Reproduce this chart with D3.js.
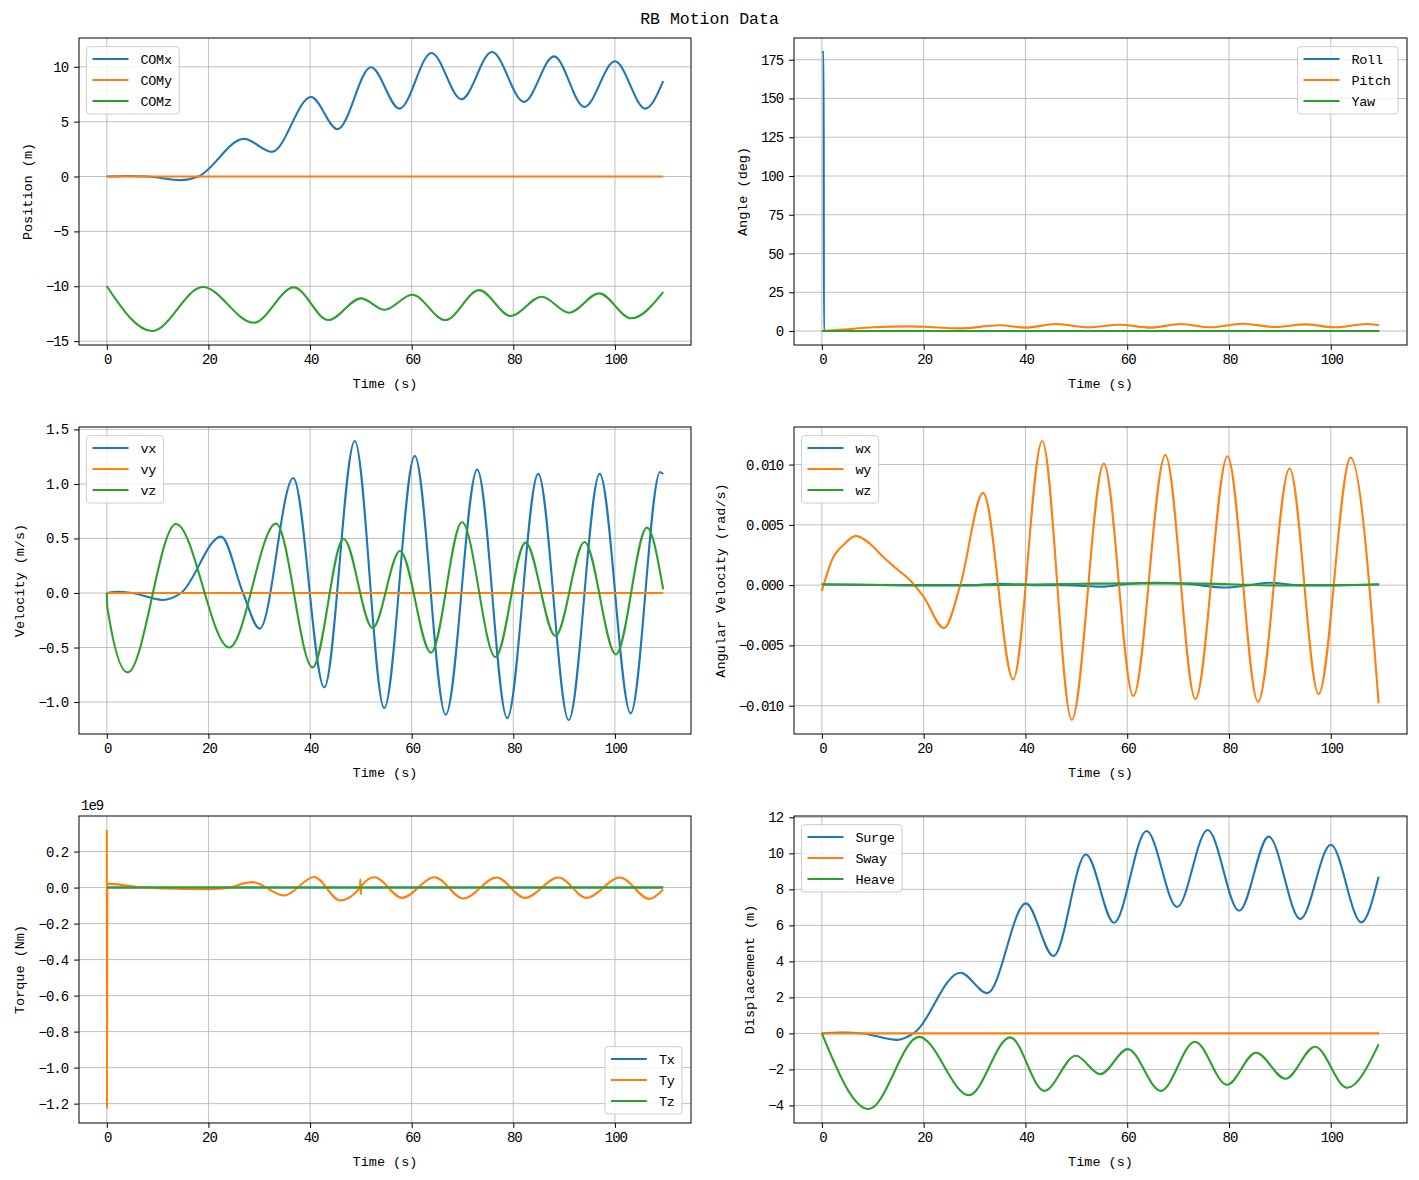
<!DOCTYPE html>
<html>
<head>
<meta charset="utf-8">
<script src="https://cdn.jsdelivr.net/npm/d3@7"></script>
<style>
body { margin: 0; background: #fff; }
svg text { font-family: "Liberation Mono", "DejaVu Sans Mono", monospace; fill: #000; }
</style>
</head>
<body>
<div id="chart"></div>
<script>
// [time (s), value] pairs
const COMx = [[0,0],[4,0.05],[8,0],[14.6,-0.33],[18,0],[27,3.43],[32.5,2.25],[40.2,7.25],[45.4,4.31],[52,9.95],[57.6,6.19],[63.9,11.26],[69.8,7.04],[75.8,11.35],[82.1,6.8],[88,10.95],[94,6.34],[100,10.5],[106,6.19],[109.5,8.7]];
const COMy = [[0,0],[109.5,0]];
const COMz = [[0,-10],[8.9,-14.08],[18.9,-10.07],[28.9,-13.32],[36.8,-10.1],[43.6,-13.08],[50,-11.1],[54.7,-12.14],[60.1,-10.77],[66.6,-13.08],[73.3,-10.35],[79.5,-12.71],[85.6,-10.95],[91,-12.41],[96.9,-10.65],[103.2,-12.92],[109.5,-10.53]];

const Roll = [[0,180],[0.35,180],[0.4,0],[109.5,0]];
const Pitch = [[0,0],[5,1.2],[10,2.4],[17,3.0],[20,2.8],[27,1.7],[35,3.7],[40,2.2],[46,4.5],[52.5,2.4],[58.5,4.1],[64.5,2.2],[70.5,4.5],[76.5,2.4],[82.7,4.7],[89,2.6],[95,4.3],[100.8,2.4],[107,4.5],[109.5,3.7]];
const Yaw = [[0,0],[109.5,0]];

const vx = [[0,0],[2,0.012],[5,0],[11,-0.064],[14.6,0],[22.5,0.517],[26.8,0],[30.1,-0.327],[36.7,1.055],[42.8,-0.865],[48.8,1.394],[54.6,-1.055],[60.6,1.257],[66.7,-1.116],[72.9,1.131],[78.8,-1.147],[84.9,1.092],[90.9,-1.165],[97,1.092],[103.1,-1.104],[108.9,1.11],[109.5,1.09]];
const vy = [[0,0],[109.5,0]];
const vz = [[0,0],[0.1,-0.13],[4.1,-0.728],[13.6,0.633],[24.1,-0.5],[33.3,0.636],[40.5,-0.682],[46.6,0.498],[52.3,-0.321],[57.7,0.385],[63.8,-0.547],[69.9,0.648],[76.5,-0.587],[82.4,0.462],[88.3,-0.394],[94,0.468],[100.2,-0.563],[106.3,0.599],[109.5,0.034]];

const wx = [[0,0.00005],[20,0],[30,0],[35,0.00012],[42,0],[48,0],[55,-0.00013],[60,0.0001],[65,0.0002],[72,0.0001],[79,-0.0002],[84,0],[88,0.0002],[94,0],[100,0],[109.5,0.00005]];
const wy = [[0,-0.00047],[2,0.0021],[4.4,0.0034],[6.7,0.00409],[9.4,0.00345],[12,0.00235],[15,0.00124],[17,0.00055],[20,-0.00097],[24,-0.00356],[27.2,0],[31.7,0.00765],[37.6,-0.00782],[43.3,0.01196],[49.1,-0.01119],[55.4,0.01008],[61.2,-0.0092],[67.5,0.0108],[73.4,-0.00945],[79.7,0.01069],[85.7,-0.00967],[91.9,0.00967],[97.6,-0.00903],[103.9,0.01058],[109.4,-0.0098]];
const wz = [[0,0.00008],[25,-0.00003],[48,0.0001],[62,0.00015],[72,0.00015],[80,0.00008],[90,-0.00003],[100,-0.00002],[109.5,0.00008]];

// torque in units of 1e9 Nm
const Tx = [[0,0],[109.5,0]];
const Ty = [[0,0.32],[0.03,-1.23],[0.1,0.022],[5,0.007],[10,-0.004],[15,-0.007],[20,-0.009],[23,-0.005],[28.7,0.03],[34.9,-0.044],[40.8,0.059],[45.9,-0.071],[49.85,0],[49.9,0.046],[50,-0.037],[50.1,0.008],[52.7,0.057],[58.1,-0.057],[64.5,0.057],[70.2,-0.061],[76.7,0.056],[82.3,-0.057],[88.9,0.056],[94.4,-0.057],[101,0.056],[106.8,-0.063],[109.5,-0.011]];
const Tz = [[0,0],[109.5,0]];

const Surge = [[0,0],[4,0.05],[8,0],[14.8,-0.36],[18,0],[27.2,3.37],[32.5,2.24],[40.1,7.22],[45.5,4.3],[51.9,9.94],[57.4,6.15],[63.8,11.24],[69.8,7.02],[75.8,11.3],[82,6.81],[87.8,10.93],[94,6.35],[100,10.48],[106,6.17],[109.4,8.7]];
const Sway = [[0,0],[109.5,0]];
const Heave = [[0,0],[9.2,-4.2],[19.1,-0.19],[28.9,-3.43],[37,-0.22],[43.7,-3.19],[49.9,-1.24],[54.7,-2.26],[60.1,-0.87],[66.6,-3.19],[73.3,-0.46],[79.6,-2.85],[85.3,-1.07],[91.1,-2.52],[96.9,-0.74],[103.2,-3.02],[109.4,-0.61]];

const timeTicks = [0,20,40,60,80,100];
const posTicks = [-15,-10,-5,0,5,10];
const angTicks = [0,25,50,75,100,125,150,175];
const velTicks = [-1.0,-0.5,0.0,0.5,1.0,1.5];
const omegaTicks = [-0.010,-0.005,0.000,0.005,0.010];
const torqueTicks = [-1.2,-1.0,-0.8,-0.6,-0.4,-0.2,0.0,0.2];
const dispTicks = [-4,-2,0,2,4,6,8,10,12];

const colors = ["#1f77b4", "#ff7f0e", "#2ca02c"];

var width = 1419, height = 1180;
var cols = [[79, 691], [794, 1407]];
var rows = [[38, 345], [427, 734], [816, 1123]];

var svg = d3.select("#chart").append("svg")
    .attr("width", width)
    .attr("height", height);

svg.append("text")
    .attr("x", 709.5)
    .attr("y", 23.5)
    .attr("text-anchor", "middle")
    .style("font-size", "16.5px")
    .text("RB Motion Data");

const panels = [
    { col: 0, row: 0, ylabel: "Position (m)", ticks: posTicks, fmt: d3.format("d"), legend: "ul",
      series: [["COMx", COMx], ["COMy", COMy], ["COMz", COMz]] },
    { col: 1, row: 0, ylabel: "Angle (deg)", ticks: angTicks, fmt: d3.format("d"), legend: "ur",
      series: [["Roll", Roll], ["Pitch", Pitch], ["Yaw", Yaw]] },
    { col: 0, row: 1, ylabel: "Velocity (m/s)", ticks: velTicks, fmt: d3.format(".1f"), legend: "ul",
      series: [["vx", vx], ["vy", vy], ["vz", vz]] },
    { col: 1, row: 1, ylabel: "Angular Velocity (rad/s)", ticks: omegaTicks, fmt: d3.format(".3f"), legend: "ul",
      series: [["wx", wx], ["wy", wy], ["wz", wz]] },
    { col: 0, row: 2, ylabel: "Torque (Nm)", ticks: torqueTicks, fmt: d3.format(".1f"), legend: "lr", offset: "1e9",
      series: [["Tx", Tx], ["Ty", Ty], ["Tz", Tz]] },
    { col: 1, row: 2, ylabel: "Displacement (m)", ticks: dispTicks, fmt: d3.format("d"), legend: "ul",
      series: [["Surge", Surge], ["Sway", Sway], ["Heave", Heave]] }
];

function paddedExtent(values) {
    var ext = d3.extent(values);
    var pad = (ext[1] - ext[0]) * 0.05;
    return [ext[0] - pad, ext[1] + pad];
}

function crtajPanel(p) {
    var x0 = cols[p.col][0], x1 = cols[p.col][1];
    var y0 = rows[p.row][0], y1 = rows[p.row][1];
    var g = svg.append("g");

    var allT = p.series.flatMap(s => s[1].map(d => d[0]));
    var allV = p.series.flatMap(s => s[1].map(d => d[1]));

    var x = d3.scaleLinear().domain(paddedExtent(allT)).range([x0, x1]);
    var y = d3.scaleLinear().domain(paddedExtent(allV)).range([y1, y0]);

    // grid
    g.selectAll(".gx").data(timeTicks).enter().append("line")
        .attr("x1", d => x(d)).attr("x2", d => x(d))
        .attr("y1", y0).attr("y2", y1)
        .attr("stroke", "#b0b0b0").attr("stroke-width", 0.8);
    g.selectAll(".gy").data(p.ticks).enter().append("line")
        .attr("x1", x0).attr("x2", x1)
        .attr("y1", d => y(d)).attr("y2", d => y(d))
        .attr("stroke", "#b0b0b0").attr("stroke-width", 0.8);

    // lines
    var line = d3.line()
        .x(d => x(d[0]))
        .y(d => y(d[1]))
        .curve(d3.curveMonotoneX);

    p.series.forEach((s, i) => {
        g.append("path")
            .datum(s[1])
            .attr("d", line)
            .attr("fill", "none")
            .attr("stroke", colors[i])
            .attr("stroke-width", 2.1)
            .attr("stroke-linejoin", "round");
    });

    // frame
    g.append("rect")
        .attr("x", x0).attr("y", y0)
        .attr("width", x1 - x0).attr("height", y1 - y0)
        .attr("fill", "none").attr("stroke", "#000").attr("stroke-width", 1);

    // axes
    var ax = g.append("g")
        .attr("transform", "translate(0," + y1 + ")")
        .call(d3.axisBottom(x).tickValues(timeTicks).tickFormat(d3.format("d")).tickSizeInner(4.9).tickSizeOuter(0).tickPadding(4.5));
    ax.select(".domain").remove();
    ax.selectAll("text").style("font-size", "14px").style("letter-spacing", "-1px")
        .attr("dx", "0.5px").attr("fill", "#000");

    var ay = g.append("g")
        .attr("transform", "translate(" + x0 + ",0)")
        .call(d3.axisLeft(y).tickValues(p.ticks).tickFormat(p.fmt).tickSizeInner(4.9).tickSizeOuter(0).tickPadding(6));
    ay.select(".domain").remove();
    ay.selectAll("text").style("font-size", "14px").style("letter-spacing", "-1px").attr("fill", "#000");

    // bbox is in the axis group's own coordinates
    var bb = ay.node().getBBox();

    g.append("text")
        .attr("transform", "rotate(-90)")
        .attr("x", -(y0 + y1) / 2)
        .attr("y", x0 + bb.x - 14)
        .attr("text-anchor", "middle")
        .style("font-size", "13.5px")
        .text(p.ylabel);

    g.append("text")
        .attr("x", (x0 + x1) / 2)
        .attr("y", y1 + 43)
        .attr("text-anchor", "middle")
        .style("font-size", "13.5px")
        .text("Time (s)");

    if (p.offset) {
        g.append("text")
            .attr("x", x0 + 2)
            .attr("y", y0 - 6)
            .style("font-size", "14px")
            .style("letter-spacing", "-1px")
            .text(p.offset);
    }

    // legend
    var leg = g.append("g");
    var box = leg.append("rect")
        .attr("fill", "#fff").attr("fill-opacity", 0.8)
        .attr("stroke", "#cccccc").attr("stroke-width", 1)
        .attr("rx", 3);
    var texts = [];
    p.series.forEach((s, i) => {
        var cy = 12.3 + i * 21;
        leg.append("line")
            .attr("x1", 6).attr("x2", 42)
            .attr("y1", cy).attr("y2", cy)
            .attr("stroke", colors[i]).attr("stroke-width", 2.1);
        var t = leg.append("text")
            .attr("x", 54).attr("y", cy)
            .attr("dy", "0.35em")
            .style("font-size", "13.5px")
            .style("letter-spacing", "-0.3px")
            .text(s[0]);
        texts.push(t.node().getComputedTextLength());
    });
    var bw = 54 + d3.max(texts) + 7.5;
    var bh = 67.3;
    box.attr("width", bw).attr("height", bh);
    var lx, ly;
    if (p.legend === "ul") { lx = x0 + 7.5; ly = y0 + 8.7; }
    else if (p.legend === "ur") { lx = x1 - 9 - bw; ly = y0 + 8.7; }
    else { lx = x1 - 9 - bw; ly = y1 - 9 - bh; }
    leg.attr("transform", "translate(" + lx + "," + ly + ")");
}

panels.forEach(crtajPanel);
</script>
</body>
</html>
